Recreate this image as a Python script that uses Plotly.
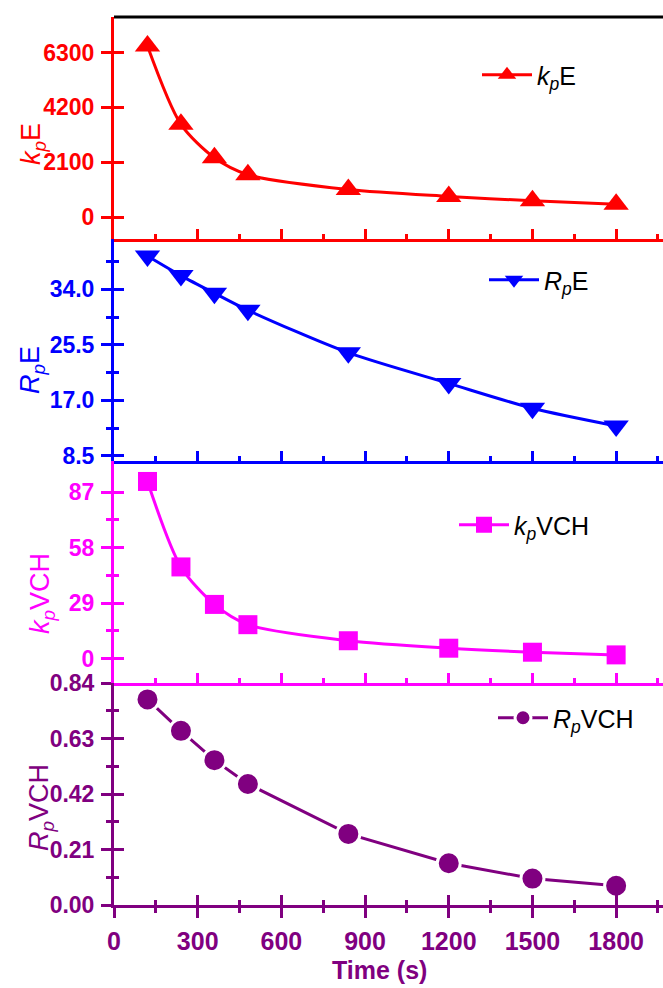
import plotly.graph_objects as go

# ---------------- data ----------------
time_s = [120, 240, 360, 480, 840, 1200, 1500, 1800]
kp_E = [6550, 3550, 2270, 1620, 1050, 790, 620, 490]
Rp_E = [39.1, 36.1, 33.4, 30.8, 24.3, 19.6, 15.8, 13.1]
kp_VCH = [92.6, 47.9, 28.3, 17.7, 9.3, 5.4, 3.3, 1.9]
Rp_VCH = [0.778, 0.659, 0.548, 0.458, 0.269, 0.158, 0.100, 0.073]

x_ticks = [0, 300, 600, 900, 1200, 1500, 1800]
x_minor = [150, 450, 750, 1050, 1350, 1650, 1950]

kpE_ticks = [0, 2100, 4200, 6300]
RpE_ticks = [8.5, 17.0, 25.5, 34.0]
RpE_minor = [12.75, 21.25, 29.75, 38.25]
kpVCH_ticks = [0, 29, 58, 87]
kpVCH_minor = [14.5, 43.5, 72.5]
RpVCH_ticks = [0.00, 0.21, 0.42, 0.63, 0.84]
RpVCH_minor = [0.105, 0.315, 0.525, 0.735]

names = ["<i>k</i><sub><i>p</i></sub>E", "<i>R</i><sub><i>p</i></sub>E",
         "<i>k</i><sub><i>p</i></sub>VCH", "<i>R</i><sub><i>p</i></sub>VCH"]
x_title = "Time (s)"

# ---------------- style ----------------
W, H = 663, 988
ML, MR, MT, MB = 114, 0, 17, 83
PW, PH = W - ML - MR, H - MT - MB
FONT = "Liberation Sans, Arial"

panels = [
    dict(y=kp_E, color="#FF0000", symbol="triangle-up", size=22, shape="spline",
         range=[-842, 7660], ticks=kpE_ticks, minor=[], fmt="d",
         legend=(477, 75), title=(33, 144)),
    dict(y=Rp_E, color="#0000FF", symbol="triangle-down", size=22, shape="spline",
         range=[7.73, 41.7], ticks=RpE_ticks, minor=RpE_minor, fmt=".1f",
         legend=(484, 280), title=(32, 370)),
    dict(y=kp_VCH, color="#FF00FF", symbol="square", size=19, shape="spline",
         range=[-12.8, 103.3], ticks=kpVCH_ticks, minor=kpVCH_minor, fmt="d",
         legend=(454, 525), title=(42, 594)),
    dict(y=Rp_VCH, color="#800080", symbol="circle", size=23, shape="linear",
         range=[0, 0.84], ticks=RpVCH_ticks, minor=RpVCH_minor, fmt=".2f",
         legend=(493, 718), title=(41, 808)),
]


def minor_cfg(vals, c, side):
    if not vals:
        return dict(ticks="")
    return dict(tickmode="array", tickvals=vals, ticklen=5, tickwidth=3,
                tickcolor=c, ticks=side)


XR = [0, 1968]
fig = go.Figure()
layout = dict(
    template="none",
    width=W, height=H,
    margin=dict(l=ML, r=MR, t=MT, b=MB, autoexpand=False),
    paper_bgcolor="white", plot_bgcolor="white",
    showlegend=True, shapes=[], annotations=[],
)

n = len(panels)
for i, p in enumerate(panels):
    k = i + 1
    sfx = "" if k == 1 else str(k)
    dom = [1 - (i + 1) / n, 1 - i / n]
    c = p["color"]
    leg = "legend" if k == 1 else f"legend{k}"
    mline = dict(color="white", width=3) if p["symbol"] == "circle" else dict(width=0)
    fig.add_trace(go.Scatter(
        x=time_s, y=p["y"], name=names[i], mode="lines+markers",
        line=dict(color=c, width=3, shape=p["shape"], smoothing=0.8),
        marker=dict(symbol=p["symbol"], size=p["size"], color=c, line=mline),
        xaxis="x" + sfx, yaxis="y" + sfx, legend=leg, cliponaxis=False,
    ))
    # overlay y axis for the inward half of crossing ticks
    fig.add_trace(go.Scatter(x=[None], y=[None], xaxis="x" + sfx, yaxis=f"y{k+4}",
                             showlegend=False, hoverinfo="skip"))
    is_bottom = (k == n)
    side = "outside" if is_bottom else "inside"
    xa = dict(
        domain=[0, 1], range=XR, anchor="y" + sfx, automargin=False,
        showline=True, linecolor=c, linewidth=3, showgrid=False, zeroline=False,
        tickmode="array", tickvals=x_ticks, ticklen=10, tickwidth=3, tickcolor=c,
        ticks=side, minor=minor_cfg(x_minor, c, side),
        showticklabels=is_bottom,
        tickfont=dict(family=FONT, size=25, color=c, weight="bold"),
        ticklabelstandoff=2,
    )
    if k != 1:
        xa["matches"] = "x"
    layout["xaxis" + sfx] = xa
    tt = [format(v, p["fmt"]) if p["fmt"] != "d" else str(int(v)) for v in p["ticks"]]
    layout["yaxis" + sfx] = dict(
        domain=dom, range=p["range"], anchor="x" + sfx, automargin=False,
        showline=True, linecolor=c, linewidth=3, showgrid=False, zeroline=False,
        tickmode="array", tickvals=p["ticks"], ticktext=tt,
        ticks="outside", ticklen=10, tickwidth=3, tickcolor=c,
        minor=minor_cfg(p["minor"], c, "outside"),
        tickfont=dict(family=FONT, size=23, color=c, weight="bold"),
        ticklabelstandoff=2,
    )
    layout[f"yaxis{k+4}"] = dict(
        overlaying="y" + sfx, anchor="x" + sfx, side="left", range=p["range"],
        automargin=False,
        showline=False, showgrid=False, zeroline=False, showticklabels=False,
        tickmode="array", tickvals=p["ticks"], ticks="inside", ticklen=10,
        tickwidth=3, tickcolor=c, minor=minor_cfg(p["minor"], c, "inside"),
    )
    lx, ly = p["legend"]
    layout[leg] = dict(
        x=(lx - ML) / PW, y=(H - MB - ly) / PH, xanchor="left", yanchor="middle",
        bgcolor="rgba(0,0,0,0)", itemwidth=50,
        font=dict(family=FONT, size=25, color="black"),
    )
    tx, ty = p["title"]
    layout["annotations"].append(dict(
        text=names[i], xref="paper", yref="paper",
        x=(tx - ML) / PW, y=(H - MB - ty) / PH,
        xanchor="center", yanchor="middle", textangle=-90, showarrow=False,
        font=dict(family=FONT, size=27, color=c),
    ))

c4 = panels[-1]["color"]
# x-axis title
layout["annotations"].append(dict(
    text=x_title, xref="paper", yref="paper",
    x=(379 - ML) / PW, y=(H - MB - 970) / PH,
    xanchor="center", yanchor="middle", showarrow=False,
    font=dict(family=FONT, size=25, color=c4, weight="bold"),
))

# overlay x axis for the inward half of bottom crossing ticks
fig.add_trace(go.Scatter(x=[None], y=[None], xaxis="x5", yaxis="y4",
                         showlegend=False, hoverinfo="skip"))
layout["xaxis5"] = dict(
    overlaying="x4", anchor="y4", side="bottom", range=XR, automargin=False,
    showline=False, showgrid=False, zeroline=False, showticklabels=False,
    tickmode="array", tickvals=x_ticks, ticks="inside", ticklen=10, tickwidth=3,
    tickcolor=c4, minor=minor_cfg(x_minor, c4, "inside"),
)

layout["shapes"].append(dict(type="line", xref="paper", yref="paper",
                             x0=0, x1=1, y0=1, y1=1, line=dict(color="black", width=3)))

fig.update_layout(**layout)
fig.write_html("out.html", config={"displayModeBar": False},
               post_script="document.body.style.margin='0px';document.body.style.overflow='hidden';")
